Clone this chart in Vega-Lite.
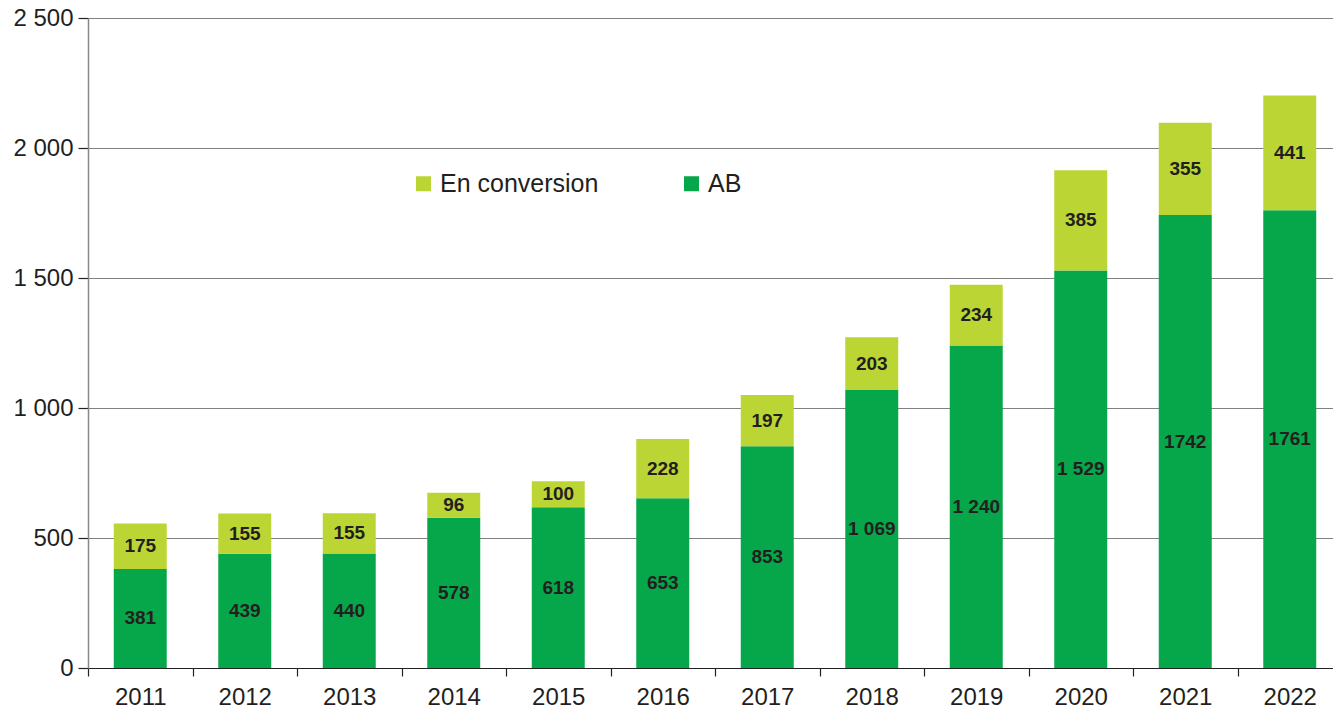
{
  "$schema": "https://vega.github.io/schema/vega-lite/v6.json",
  "autosize": "none",
  "width": 1245,
  "height": 650,
  "padding": {"left": 88, "top": 18, "right": 0, "bottom": 40},
  "background": "white",
  "config": {
    "font": "Liberation Sans",
    "view": {"stroke": null}
  },
  "data": {
    "values": [
      {"year": "2011", "series": "AB", "value": 381, "label": "381"},
      {"year": "2011", "series": "En conversion", "value": 175, "label": "175"},
      {"year": "2012", "series": "AB", "value": 439, "label": "439"},
      {"year": "2012", "series": "En conversion", "value": 155, "label": "155"},
      {"year": "2013", "series": "AB", "value": 440, "label": "440"},
      {"year": "2013", "series": "En conversion", "value": 155, "label": "155"},
      {"year": "2014", "series": "AB", "value": 578, "label": "578"},
      {"year": "2014", "series": "En conversion", "value": 96, "label": "96"},
      {"year": "2015", "series": "AB", "value": 618, "label": "618"},
      {"year": "2015", "series": "En conversion", "value": 100, "label": "100"},
      {"year": "2016", "series": "AB", "value": 653, "label": "653"},
      {"year": "2016", "series": "En conversion", "value": 228, "label": "228"},
      {"year": "2017", "series": "AB", "value": 853, "label": "853"},
      {"year": "2017", "series": "En conversion", "value": 197, "label": "197"},
      {"year": "2018", "series": "AB", "value": 1069, "label": "1 069"},
      {"year": "2018", "series": "En conversion", "value": 203, "label": "203"},
      {"year": "2019", "series": "AB", "value": 1240, "label": "1 240"},
      {"year": "2019", "series": "En conversion", "value": 234, "label": "234"},
      {"year": "2020", "series": "AB", "value": 1529, "label": "1 529"},
      {"year": "2020", "series": "En conversion", "value": 385, "label": "385"},
      {"year": "2021", "series": "AB", "value": 1742, "label": "1742"},
      {"year": "2021", "series": "En conversion", "value": 355, "label": "355"},
      {"year": "2022", "series": "AB", "value": 1761, "label": "1761"},
      {"year": "2022", "series": "En conversion", "value": 441, "label": "441"}
    ]
  },
  "transform": [
    {"stack": "value", "groupby": ["year"], "sort": [{"field": "series", "order": "ascending"}], "as": ["v0", "v1"]},
    {"calculate": "(datum.v0 + datum.v1) / 2", "as": "vmid"}
  ],
  "encoding": {
    "x": {
      "field": "year",
      "type": "ordinal",
      "scale": {"paddingInner": 0, "paddingOuter": 0, "range": [0, 1254]},
      "axis": {
        "title": null,
        "tickBand": "extent",
        "domainColor": "#222",
        "domainWidth": 1.2,
        "tickColor": "#222",
        "tickWidth": 1.2,
        "tickSize": 8,
        "labelFontSize": 24,
        "labelColor": "#231f20",
        "labelPadding": 9,
        "labelAngle": 0,
        "grid": false
      }
    }
  },
  "layer": [
    {
      "mark": {"type": "bar", "width": {"band": 0.507}},
      "encoding": {
        "y": {
          "field": "v0",
          "type": "quantitative",
          "scale": {"domain": [0, 2500], "nice": false, "zero": true},
          "axis": {
            "title": null,
            "values": [0, 500, 1000, 1500, 2000, 2500],
            "labelExpr": "replace(format(datum.value, ','), ',', ' ')",
            "labelFontSize": 24,
            "labelColor": "#231f20",
            "labelPadding": 5,
            "tickSize": 10,
            "tickColor": "#222",
            "tickWidth": 1.2,
            "domainColor": "#888",
            "domainWidth": 1.5,
            "grid": true,
            "gridColor": "#808080",
            "gridWidth": 1.2
          }
        },
        "y2": {"field": "v1"},
        "color": {
          "field": "series",
          "type": "nominal",
          "scale": {"domain": ["En conversion", "AB"], "range": ["#BBD535", "#06A64A"]},
          "legend": {
            "title": null,
            "orient": "none",
            "legendX": 323,
            "legendY": 153,
            "direction": "horizontal",
            "symbolType": "square",
            "symbolSize": 225,
            "symbolStrokeWidth": 0,
            "labelFontSize": 25,
            "labelColor": "#231f20",
            "labelOffset": 4,
            "columnPadding": 80,
            "padding": 0
          }
        }
      }
    },
    {
      "mark": {"type": "text", "fontWeight": "bold", "fontSize": 19, "color": "#231f20", "baseline": "middle"},
      "encoding": {
        "y": {"field": "vmid", "type": "quantitative", "scale": {"domain": [0, 2500], "nice": false}},
        "text": {"field": "label"}
      }
    }
  ]
}
